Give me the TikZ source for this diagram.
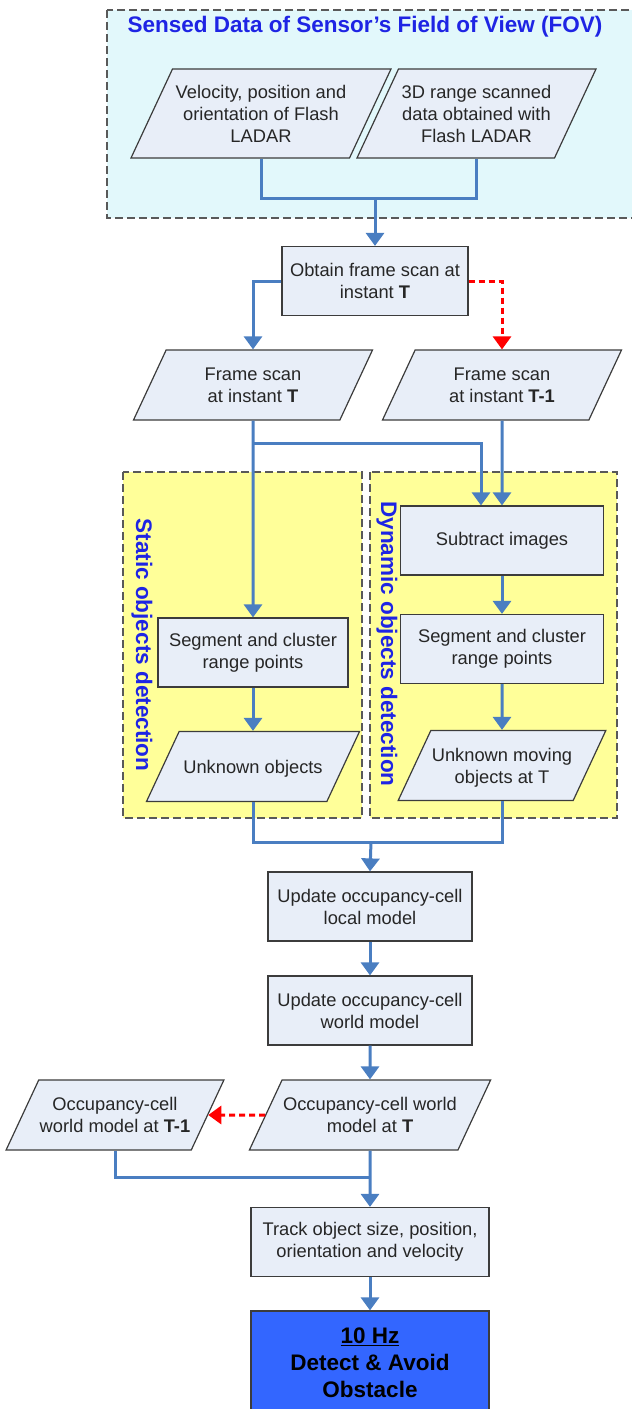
\documentclass[tikz,border=0pt]{standalone}
\usepackage{fontspec}
\setmainfont{Liberation Sans}
\usepackage{xcolor}
\usepackage{tikz}
\usetikzlibrary{shapes.geometric,arrows.meta}

\definecolor{boxfill}{RGB}{232,238,248}
\definecolor{boxline}{RGB}{60,60,60}
\definecolor{flowblue}{RGB}{74,126,193}
\definecolor{fovfill}{RGB}{226,248,251}
\definecolor{zonefill}{RGB}{255,255,153}
\definecolor{labelblue}{RGB}{30,36,228}
\definecolor{goalblue}{RGB}{51,102,255}

\begin{document}
\begin{tikzpicture}[x=1pt,y=1pt,yscale=-1,xscale=1,
  txt/.style={font=\fontsize{18.3}{22}\selectfont, text=black!85, align=center},
  procbox/.style={txt, rectangle, draw=boxline, fill=boxfill, line width=1.2pt,
    minimum width=#1, minimum height=69pt, inner sep=2pt},
  datashape/.style={txt, trapezium, trapezium left angle=65, trapezium right angle=115,
    trapezium stretches body=true, draw=boxline, fill=boxfill, line width=1.2pt,
    minimum width=#1, inner xsep=1pt, inner ysep=0pt},
  oneline/.style={text height=41.6pt, text depth=28.4pt},
  twoline/.style={text height=52.6pt, text depth=17.4pt},
  threeline/.style={text height=73.1pt, text depth=15.9pt},
  goalbox/.style={rectangle, draw=boxline, fill=goalblue, line width=1.2pt, align=center,
    font=\fontsize{22.5}{27}\selectfont\bfseries, text=black,
    minimum width=238pt, minimum height=104pt},
  zone/.style={draw=black!65, line width=1.3pt, dash pattern=on 8pt off 4pt},
  zonelabel/.style={font=\fontsize{22.5}{27}\selectfont\bfseries, text=labelblue},
  flow/.style={draw=flowblue, line width=3pt},
  flowarr/.style={flow, -{Triangle[width=18pt,length=13pt]}},
  prevarr/.style={draw=red, line width=3pt, dash pattern=on 6pt off 4pt,
    -{Triangle[width=18pt,length=13pt]}}]
\useasboundingbox (0,0) rectangle (632,1409);

%Shape: Rectangle [sensor field of view]
\draw[zone, fill=fovfill] (107,10) rectangle (640,218);
%Shape: Rectangle [static objects]
\draw[zone, fill=zonefill] (123,472) rectangle (362,818);
%Shape: Rectangle [dynamic objects]
\draw[zone, fill=zonefill] (370,472) rectangle (617,818);

% Text Node
\node[zonelabel] (fovlbl) at (365,27) {Sensed Data of Sensor's Field of View (FOV)};
\node[zonelabel, rotate=-90] (staticlbl) at (142,645) {Static objects detection};
\node[zonelabel, rotate=-90] (dynlbl) at (387,644) {Dynamic objects detection};

%Shape: Parallelogram / Rectangle
\node[datashape=260pt, threeline] (velo) at (261,113.5) {Velocity, position and\\orientation of Flash\\LADAR};
\node[datashape=239pt, threeline] (range3d) at (476.5,113.5) {3D range scanned\\data obtained with\\Flash LADAR};
\node[procbox=186pt] (obtain) at (375,281) {Obtain frame scan at\\instant \textbf{T}};
\node[datashape=239pt, twoline] (frameT) at (253,385) {Frame scan\\at instant \textbf{T}};
\node[datashape=239pt, twoline] (frameTm) at (502,385) {Frame scan\\at instant \textbf{T-1}};
\node[procbox=203pt] (subtract) at (502,540.5) {Subtract images};
\node[procbox=203pt] (segD) at (502,649) {Segment and cluster\\range points};
\node[procbox=190pt] (segS) at (253,652.5) {Segment and cluster\\range points};
\node[datashape=213pt, oneline] (unkS) at (253,766.5) {Unknown objects};
\node[datashape=203pt, twoline] (unkD) at (502,765.5) {Unknown moving\\objects at T};
\node[procbox=204pt] (local) at (370,906.5) {Update occupancy-cell\\local model};
\node[procbox=204pt] (world) at (370,1010.5) {Update occupancy-cell\\world model};
\node[datashape=237pt, twoline] (occT) at (370,1115) {Occupancy-cell world\\model at \textbf{T}};
\node[datashape=216pt, twoline] (occTm) at (115,1115) {Occupancy-cell\\world model at \textbf{T-1}};
\node[procbox=238pt] (track) at (370,1242) {Track object size, position,\\orientation and velocity};
\node[goalbox] (goal) at (370,1363) {\underline{10 Hz}\\Detect \& Avoid\\Obstacle};

%Straight Lines
\coordinate (fovjoin) at (375,198);
\draw[flow] (velo.south) |- (fovjoin) -| (range3d.south);
\draw[flowarr] (fovjoin) -- (obtain.north);
\draw[flowarr] (obtain.west) -| (frameT.north);
\draw[prevarr] (obtain.east) -| (frameTm.north);
\coordinate (split) at (253,443);
\draw[flowarr] (frameT.south) -- (segS.north);
\draw[flowarr] (split) -| ([xshift=-21pt]subtract.north);
\draw[flowarr] (frameTm.south) -- (subtract.north);
\draw[flowarr] (subtract) -- (segD);
\draw[flowarr] (segD) -- (unkD);
\draw[flowarr] (segS) -- (unkS);
\coordinate (merge) at (371,842);
\draw[flow] (unkS.south) |- (merge) -| (unkD.south);
\draw[flowarr] (merge) -- (local.north);
\draw[flowarr] (local) -- (world);
\draw[flowarr] (world) -- (occT);
\draw[prevarr] (occT.west) -- (occTm.east);
\coordinate (merge2) at (370,1177);
\draw[flow] (occTm.south) |- (merge2);
\draw[flowarr] (occT.south) -- (track.north);
\draw[flowarr] (track) -- (goal);
\end{tikzpicture}
\end{document}
